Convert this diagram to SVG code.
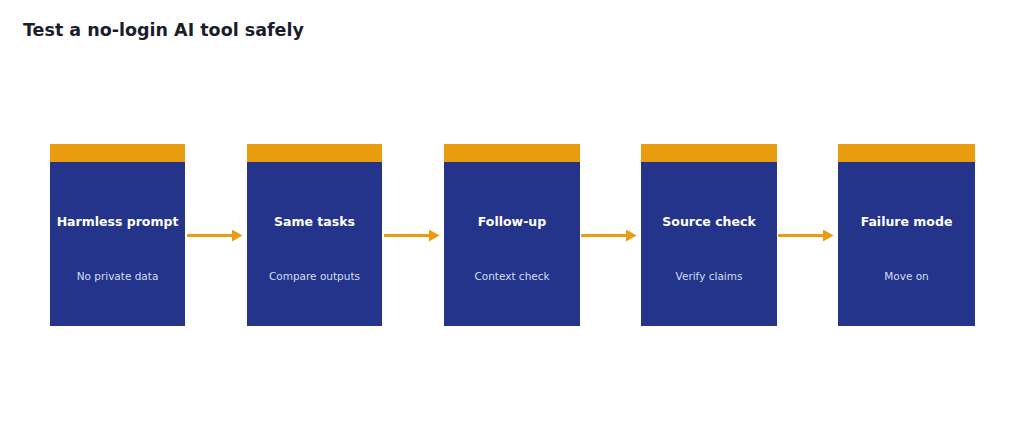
<svg xmlns="http://www.w3.org/2000/svg" width="1024" height="441" viewBox="0 0 1024 441">
<style>
.b{fill:#23348a}.h{fill:#e99c0e}
.t{font-family:"DejaVu Sans",sans-serif;font-size:12.5px;font-weight:bold;fill:#fff;text-anchor:middle}
.s{font-family:"DejaVu Sans",sans-serif;font-size:10.5px;fill:#d6dcf5;text-anchor:middle}
.c{stroke:#e99c0e;stroke-width:3;fill:none;marker-end:url(#a)}
</style>
<defs><marker id="a" markerWidth="4" markerHeight="4" refX="2" refY="2" orient="auto" markerUnits="strokeWidth"><path d="M0,0L3.5,2L0,4z" fill="#e99c0e"/></marker></defs>
<rect width="1024" height="441" fill="#fff"/>
<text x="23" y="36" font-family="DejaVu Sans,sans-serif" font-size="17.5" font-weight="bold" fill="#1a1d2b">Test a no-login AI tool safely</text>
<g id="n1"><rect class="b" x="50" y="144" width="135" height="182"/><rect class="h" x="50" y="144" width="135" height="18"/><text class="t" x="117.5" y="226">Harmless prompt</text><text class="s" x="117.5" y="280">No private data</text></g>
<g id="n2"><rect class="b" x="247" y="144" width="135" height="182"/><rect class="h" x="247" y="144" width="135" height="18"/><text class="t" x="314.5" y="226">Same tasks</text><text class="s" x="314.5" y="280">Compare outputs</text></g>
<g id="n3"><rect class="b" x="444" y="144" width="136" height="182"/><rect class="h" x="444" y="144" width="136" height="18"/><text class="t" x="512" y="226">Follow-up</text><text class="s" x="512" y="280">Context check</text></g>
<g id="n4"><rect class="b" x="641" y="144" width="136" height="182"/><rect class="h" x="641" y="144" width="136" height="18"/><text class="t" x="709" y="226">Source check</text><text class="s" x="709" y="280">Verify claims</text></g>
<g id="n5"><rect class="b" x="838" y="144" width="137" height="182"/><rect class="h" x="838" y="144" width="137" height="18"/><text class="t" x="906.5" y="226">Failure mode</text><text class="s" x="906.5" y="280">Move on</text></g>
<g id="connectors">
<path class="c" d="M187,235.5H238"/><path class="c" d="M384,235.5H435"/><path class="c" d="M581,235.5H632"/><path class="c" d="M778,235.5H829"/>
</g>
</svg>
